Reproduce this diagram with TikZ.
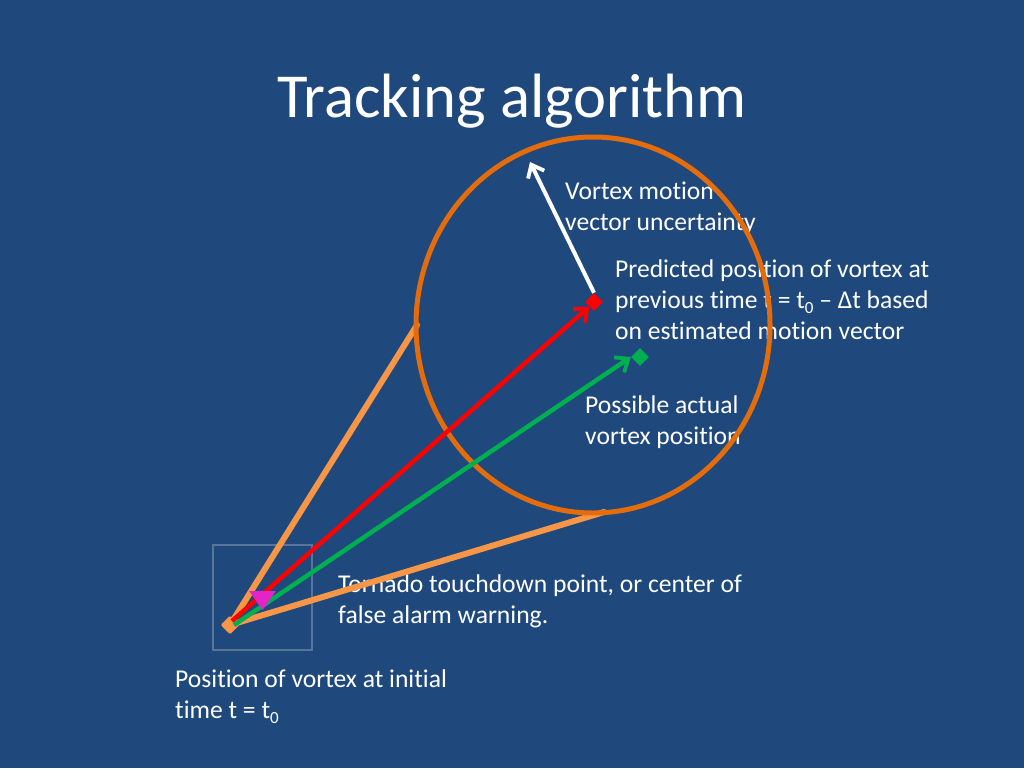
\documentclass[tikz,border=0pt]{standalone}
\usepackage{fontspec}
\setmainfont{Carlito}[RawFeature={-liga;-clig;-calt;-dlig}]
\usetikzlibrary{arrows.meta,shapes.geometric}
\definecolor{bg}{RGB}{31,73,125}
\definecolor{dkorange}{RGB}{228,108,10}
\definecolor{ltorange}{RGB}{247,150,70}
\definecolor{vred}{RGB}{255,0,0}
\definecolor{vgreen}{RGB}{0,176,80}
\definecolor{vmag}{RGB}{228,36,200}
\definecolor{boxgray}{RGB}{88,117,155}
\newcommand{\lowsub}[1]{\raisebox{-0.45ex}{\fontsize{17}{17}\selectfont #1}}
\tikzset{
  lbl/.style={anchor=base west, inner sep=0pt, text=white, align=left,
    font=\fontsize{25.6}{30.7}\selectfont},
  vec/.style={line width=4.5pt, -{Straight Barb[length=11pt,width=18pt,line width=3.8pt]}},
  tang/.style={ltorange, line width=6pt, line cap=round},
  mk/.style={diamond, minimum size=18pt, inner sep=0pt}
}
\begin{document}
\begin{tikzpicture}[x=1pt,y=-1pt]
\fill[bg] (0,0) rectangle (1024,768);
\useasboundingbox (0,0) rectangle (1024,768);
% title
\node[anchor=base, inner sep=0pt, text=white, font=\fontsize{62.6}{75}\selectfont] (title) at (512,117) {Tracking algorithm};
% labels (base = last line)
\node[lbl] (l1) at (565,230) {Vortex motion\\vector uncertainty};
\node[lbl] (l2) at (615,339) {Predicted position of vortex at\\previous time t = t\lowsub{0} – Δt based\\on estimated motion vector};
\node[lbl] (l3) at (585,444) {Possible actual\\vortex position};
\node[lbl] (l4) at (338,623) {Tornado touchdown point, or center of\\false alarm warning.};
\node[lbl] (l5) at (175,718) {Position of vortex at initial\\time t = t\lowsub{0}};
% box
\node[draw=boxgray, line width=2.5pt, minimum width=99pt, minimum height=105pt, inner sep=0pt] (box) at (262.5,597.5) {};
% coordinates
\coordinate (o) at (230,625);
\coordinate (tA) at (417,325);
\coordinate (tB) at (604,512);
% tangents
\draw[tang] (o) -- (tA);
\draw[tang] (o) -- (tB);
% circle
\draw[dkorange, line width=5pt] (593,325) ellipse [x radius=177, y radius=188];
% origin marker
\node[mk, fill=ltorange, minimum size=19pt, rounded corners=2pt] (orig) at (o) {};
% markers
\node[mk, fill=vred] (pred) at (594,302) {};
\node[mk, fill=vgreen] (act) at (640,357) {};
\coordinate (unc) at (530,162);
% vectors
\draw[vec, vred] (232,621) -- (pred.south west);
\draw[vec, vgreen] (234,625) -- (act.west);
\draw[vec, white, line width=4pt] (pred.north) -- (unc);
% magenta triangle
\node[isosceles triangle, isosceles triangle apex angle=70, shape border rotate=-90, fill=vmag, inner sep=0pt, minimum height=19pt, minimum width=22pt] (tor) at (262.5,598) {};
\end{tikzpicture}
\end{document}
